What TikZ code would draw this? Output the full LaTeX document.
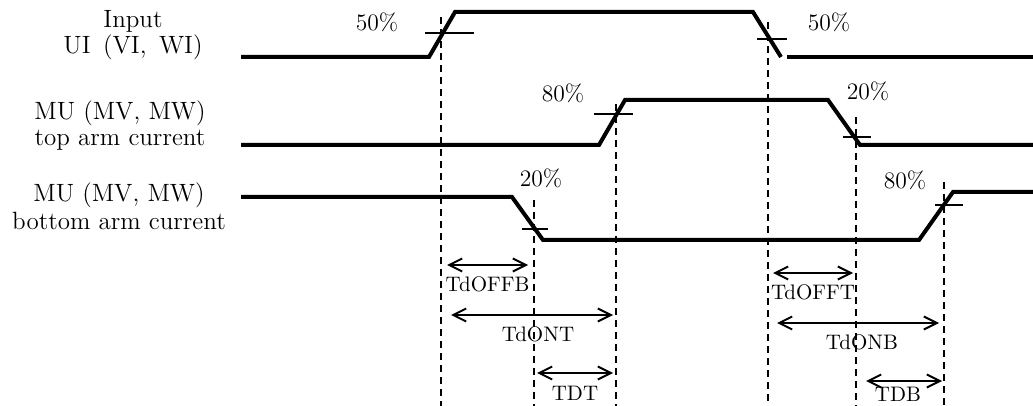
\documentclass[tikz,border=0pt]{standalone}
\usetikzlibrary{arrows.meta}

\begin{document}
\begin{tikzpicture}[
  x=0.5pt,
  y=-0.5pt,
  node distance=13pt
]

  \tikzstyle{wave}=[line width=2pt]
  \tikzstyle{levelmark}=[line width=1pt]
  \tikzstyle{dashline}=[line width=0.8pt,dash pattern=on 3.5pt off 2.5pt]
  \tikzstyle{delay}=[draw,line width=1pt,<->,>={Straight Barb[length=6.5pt,width=6.5pt]}]

  \tikzstyle{rowlab}=[font=\fontsize{12.5}{14}\selectfont,inner sep=0pt,text height=.7em,text depth=.2em,node distance=13pt]
  \tikzstyle{pctlab}=[font=\fontsize{11.8}{14}\selectfont,inner sep=0pt,text height=.7em,text depth=0pt]
  \tikzstyle{delaylab}=[below=6pt,font=\fontsize{10.5}{12}\selectfont,inner sep=0pt,text height=.7em,text depth=0pt]

  \useasboundingbox (0,0) rectangle (1033,406);

  % row labels
  \node[rowlab] (inlab)   at (133,23) {Input};
  \node[rowlab] (inlab2)  [below of=inlab] {UI\hspace{.5em}(VI,\hspace{.5em}WI)};
  \node[rowlab] (toplab)  at (120,115) {MU (MV, MW)};
  \node[rowlab] (toplab2) [below of=toplab] {top arm current};
  \node[rowlab] (botlab)  at (119,197) {MU (MV, MW)};
  \node[rowlab] (botlab2) [below of=botlab, yshift=-1pt] {bottom arm current};

  % percent labels
  \node[pctlab] (inrise)  at (377,24)  {50\%};
  \node[pctlab] (infall)  at (829,24)  {50\%};
  \node[pctlab] (toprise) at (563,95)  {80\%};
  \node[pctlab] (topfall) at (868,93)  {20\%};
  \node[pctlab] (botfall) at (541,180) {20\%};
  \node[pctlab] (botrise) at (905,182) {80\%};

  % guide lines
  \coordinate (floor) at (0,406);
  \coordinate (g1) at (441,17);
  \coordinate (g2) at (768,22);
  \coordinate (g3) at (616,104);
  \coordinate (g4) at (856,117);
  \coordinate (g5) at (534,200);
  \coordinate (g6) at (944,182);
  \foreach \g in {g1,g2,g3,g4,g5,g6}
    \draw[dashline] (\g) -- (\g |- floor);

  % waveforms
  \draw[wave] (241,57) -- (429,57) -- (455,12) -- (753,12) -- (781,57);
  \draw[wave] (787,57) -- (1033,57);
  \draw[wave] (241,145) -- (599,145) -- (625,100) -- (828,100) -- (860,145) -- (1033,145);
  \draw[wave] (241,197) -- (512,197) -- (543,240) -- (919,240) -- (953,192) -- (1033,192);

  % level marks
  \draw[levelmark] (425,33)  -- (474,33);
  \draw[levelmark] (757,39)  -- (787,39);
  \draw[levelmark] (594,114) -- (633,114);
  \draw[levelmark] (843,137) -- (871,137);
  \draw[levelmark] (522,229) -- (548,229);
  \draw[levelmark] (935,205) -- (963,205);

  % delays
  \coordinate (offbL) at (447,265);  \coordinate (offbR) at (528,265);
  \coordinate (ontL)  at (451,315);  \coordinate (ontR)  at (613,315);
  \coordinate (dtL)   at (537,373);  \coordinate (dtR)   at (613,373);
  \coordinate (offtL) at (773,273);  \coordinate (offtR) at (853,273);
  \coordinate (onbL)  at (777,323);  \coordinate (onbR)  at (939,323);
  \coordinate (dbL)   at (866,381);  \coordinate (dbR)   at (942,381);

  \draw[delay] (offbL) -- node[delaylab] (tdoffb) {TdOFFB} (offbR);
  \draw[delay] (ontL)  -- node[delaylab,xshift=3pt] (tdont) {TdONT} (ontR);
  \draw[delay] (dtL)   -- node[delaylab] (tdt) {TDT} (dtR);
  \draw[delay] (offtL) -- node[delaylab] (tdofft) {TdOFFT} (offtR);
  \draw[delay] (onbL)  -- node[delaylab,xshift=2pt] (tdonb) {TdONB} (onbR);
  \draw[delay] (dbL)   -- node[delaylab,yshift=3.5pt,xshift=-3pt] (tdb) {TDB} (dbR);

\end{tikzpicture}
\end{document}
